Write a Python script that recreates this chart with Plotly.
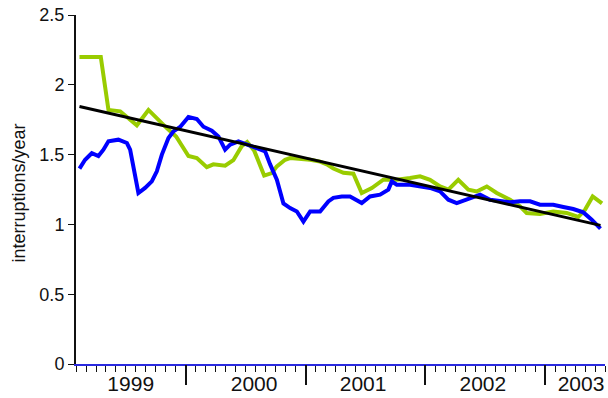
import plotly.graph_objects as go

# Monthly-sampled series, time in decimal years
green_t = [1999.112, 1999.290, 1999.354, 1999.452, 1999.591, 1999.688, 1999.841, 1999.919,
           2000.022, 2000.092, 2000.175, 2000.230, 2000.328, 2000.397, 2000.467, 2000.512,
           2000.570, 2000.654, 2000.718, 2000.760, 2000.829, 2000.871, 2001.038, 2001.121,
           2001.177, 2001.232, 2001.316, 2001.399, 2001.469, 2001.553, 2001.649, 2001.761,
           2001.872, 2001.956, 2002.039, 2002.123, 2002.192, 2002.275, 2002.359, 2002.429,
           2002.513, 2002.596, 2002.707, 2002.790, 2002.846, 2002.957, 2003.068, 2003.180,
           2003.277, 2003.333, 2003.397, 2003.458, 2003.475]
green_v = [2.20, 2.20, 1.82, 1.81, 1.71, 1.82, 1.69, 1.63,
           1.49, 1.475, 1.41, 1.43, 1.42, 1.46, 1.56, 1.59,
           1.53, 1.35, 1.368, 1.416, 1.463, 1.475, 1.463, 1.45,
           1.43, 1.40, 1.37, 1.363, 1.225, 1.26, 1.32, 1.32,
           1.332, 1.344, 1.32, 1.272, 1.249, 1.32, 1.249, 1.236,
           1.272, 1.225, 1.177, 1.129, 1.082, 1.074, 1.093, 1.082,
           1.053, 1.105, 1.20, 1.165, 1.15]

blue_t = [1999.112, 1999.159, 1999.215, 1999.270, 1999.312, 1999.354, 1999.437, 1999.508,
          1999.535, 1999.563, 1999.604, 1999.660, 1999.716, 1999.758, 1999.800, 1999.855,
          1999.896, 1999.952, 2000.022, 2000.092, 2000.147, 2000.217, 2000.272, 2000.328,
          2000.370, 2000.439, 2000.509, 2000.593, 2000.662, 2000.704, 2000.760, 2000.815,
          2000.871, 2000.927, 2000.982, 2001.038, 2001.121, 2001.190, 2001.232, 2001.302,
          2001.371, 2001.469, 2001.538, 2001.622, 2001.691, 2001.720, 2001.761, 2001.872,
          2001.956, 2002.039, 2002.123, 2002.192, 2002.262, 2002.346, 2002.373, 2002.457,
          2002.540, 2002.624, 2002.707, 2002.790, 2002.874, 2002.957, 2003.068, 2003.152,
          2003.235, 2003.319, 2003.389, 2003.462]
blue_v = [1.40, 1.463, 1.51, 1.49, 1.535, 1.595, 1.607, 1.583,
          1.535, 1.392, 1.225, 1.261, 1.308, 1.38, 1.50, 1.619,
          1.666, 1.698, 1.77, 1.755, 1.70, 1.671, 1.63, 1.535,
          1.571, 1.595, 1.571, 1.547, 1.523, 1.43, 1.32, 1.15,
          1.117, 1.093, 1.02, 1.093, 1.093, 1.165, 1.19, 1.20,
          1.20, 1.153, 1.20, 1.213, 1.249, 1.308, 1.284, 1.284,
          1.272, 1.261, 1.236, 1.177, 1.153, 1.177, 1.189, 1.213,
          1.177, 1.165, 1.158, 1.165, 1.165, 1.141, 1.141, 1.125,
          1.11, 1.086, 1.034, 0.97]

# Linear trend line endpoints
trend_t = [1999.112, 2003.462]
trend_v = [1.845, 0.993]

# Axis labelling
year_labels = ["1999", "2000", "2001", "2002", "2003"]
year_label_pos = [1999.54, 2000.57, 2001.48, 2002.48, 2003.30]
year_bounds = [2000, 2001, 2002, 2003]
month_ticks = [1999 + k / 12 for k in range(1, 55)]
y_ticks = [0, 0.5, 1, 1.5, 2, 2.5]
y_ticktext = ["0", "0.5", "1", "1.5", "2", "2.5"]

x_range = [1999.083, 2003.5]
FONT = "Liberation Sans, Arial, sans-serif"

fig = go.Figure()
fig.add_trace(go.Scatter(x=green_t, y=green_v, mode="lines",
                         line=dict(color="#99cc00", width=4), showlegend=False))
fig.add_trace(go.Scatter(x=blue_t, y=blue_v, mode="lines",
                         line=dict(color="#0000ff", width=4), showlegend=False))
fig.add_trace(go.Scatter(x=trend_t, y=trend_v, mode="lines",
                         line=dict(color="#000000", width=3), showlegend=False))
# invisible trace so the year-boundary tick axis is drawn
fig.add_trace(go.Scatter(x=x_range, y=[None, None], xaxis="x2", mode="lines",
                         showlegend=False, hoverinfo="skip"))

fig.update_layout(
    width=608, height=398,
    margin=dict(l=76, r=3, t=15, b=34),
    paper_bgcolor="white", plot_bgcolor="white",
    font=dict(family=FONT, color="#111111"),
    xaxis=dict(
        range=x_range, showgrid=False, zeroline=False,
        showline=True, linecolor="#2a2ae0", linewidth=2,
        tickvals=year_label_pos, ticktext=year_labels, ticks="",
        tickfont=dict(size=21, family=FONT, color="#111111"),
        minor=dict(tickvals=month_ticks, ticks="outside", ticklen=6,
                   tickcolor="#111111", tickwidth=1, showgrid=False),
    ),
    xaxis2=dict(
        range=x_range, overlaying="x", anchor="y", side="bottom",
        showgrid=False, zeroline=False, showline=False,
        tickvals=year_bounds, ticks="outside", ticklen=20, tickwidth=2,
        tickcolor="#111111", showticklabels=False,
    ),
    yaxis=dict(
        range=[0, 2.5], showgrid=False, zeroline=False,
        showline=True, linecolor="#111111", linewidth=2,
        tickvals=y_ticks, ticktext=y_ticktext, ticks="outside", ticklen=6,
        tickcolor="#111111", tickwidth=1,
        tickfont=dict(size=18, family=FONT, color="#111111"),
    ),
    annotations=[dict(
        text="interruptions/year", textangle=-90,
        xref="paper", yref="paper", x=(18.5 - 76) / 529, y=0.49,
        xanchor="center", yanchor="middle", showarrow=False,
        font=dict(size=18, family=FONT, color="#111111"),
    )],
)

fig.write_html("out.html")
